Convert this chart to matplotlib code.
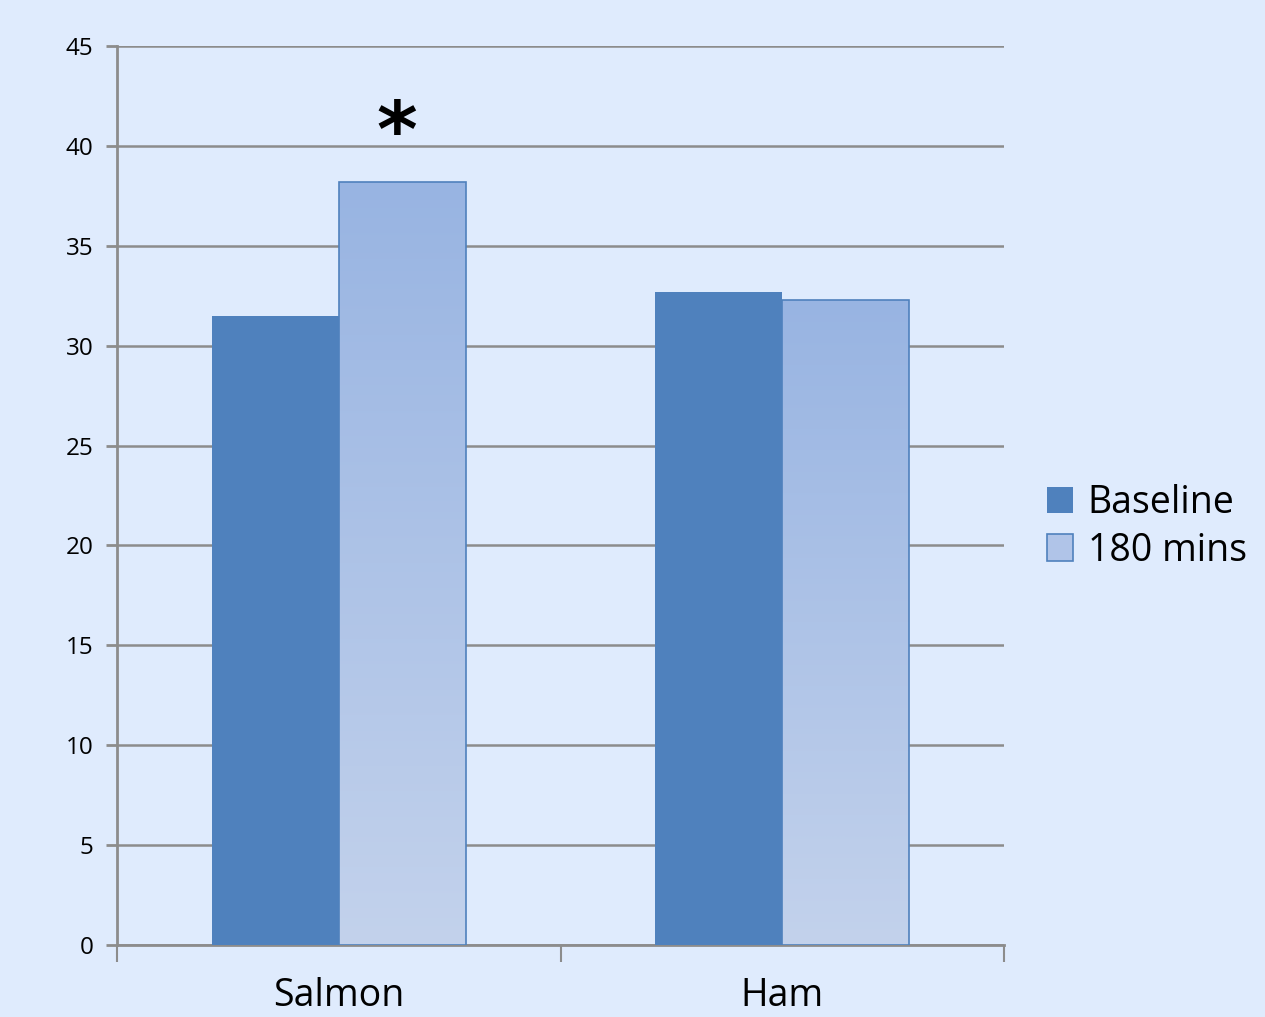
import numpy as np
import matplotlib.pyplot as plt
from matplotlib.patches import Patch
import matplotlib as mpl

mpl.rcParams['font.family'] = ['Open Sans', 'DejaVu Sans']

# values
categories = ['Salmon', 'Ham']
series = ['Baseline', '180 mins']
baseline = [31.5, 32.7]
after_180 = [38.2, 32.3]
yticks = [0, 5, 10, 15, 20, 25, 30, 35, 40, 45]

bg = '#DFEBFD'
dark = '#4F81BD'
grad_top = '#98B4E2'
grad_bottom = '#C3D2EC'
grid_col = '#8C8C8C'

fig = plt.figure(figsize=(12.65, 10.17), dpi=100, facecolor=bg)
ax = fig.add_axes([117 / 1265, 72 / 1017, 887 / 1265, 899 / 1017])
ax.set_facecolor(bg)

x = np.arange(len(categories))
w = 0.286

ax.bar(x - w / 2, baseline, w, color=dark, edgecolor='none', zorder=3)
bars = ax.bar(x + w / 2, after_180, w, color='none', edgecolor=dark, linewidth=1.2, zorder=4)

# vertical gradient inside each 180-min bar
cmap = mpl.colors.LinearSegmentedColormap.from_list('grad', [grad_bottom, grad_top])
grad = np.linspace(0, 1, 256).reshape(-1, 1)
for b in bars:
    x0, y0 = b.get_x(), b.get_y()
    im = ax.imshow(grad, cmap=cmap, aspect='auto', origin='lower',
                   extent=[x0, x0 + b.get_width(), y0, y0 + b.get_height()], zorder=3)
    im.set_clip_path(b)

ax.set_xlim(-0.5, 1.5)
ax.set_ylim(0, 45)
ax.set_yticks(yticks)
ax.tick_params(axis='y', labelsize=17.5, length=8, width=2, color=grid_col, pad=9)
ax.grid(axis='y', color=grid_col, linewidth=1.8, zorder=1)
ax.set_axisbelow(True)

# category ticks sit between groups
ax.set_xticks([-0.5, 0.5, 1.5])
ax.set_xticklabels([])
ax.tick_params(axis='x', length=12, width=1.5, color=grid_col)
for c, label in zip(x, categories):
    ax.text(c, -3.5, label, ha='center', va='bottom', fontsize=27, color='black')

for s in ['top', 'right']:
    ax.spines[s].set_visible(False)
ax.spines['left'].set_color(grid_col)
ax.spines['left'].set_linewidth(2)
ax.spines['bottom'].set_color(grid_col)
ax.spines['bottom'].set_linewidth(2)

ax.text(x[0] + w / 2 - 0.012, 40.55, '*', ha='center', va='center',
        fontsize=56, fontweight='bold', color='black', family='DejaVu Sans')

handles = [Patch(facecolor=dark, edgecolor='none'),
           Patch(facecolor='#B0C4E8', edgecolor=dark, linewidth=1.2)]
fig.legend(handles, series, loc='center left', bbox_to_anchor=(1047 / 1265, 1 - 527 / 1017),
           frameon=False, fontsize=27, handlelength=0.7, handleheight=0.7,
           handletextpad=0.38, labelspacing=0.25, borderaxespad=0, borderpad=0)

fig.savefig('out.png', dpi=100, facecolor=bg)
